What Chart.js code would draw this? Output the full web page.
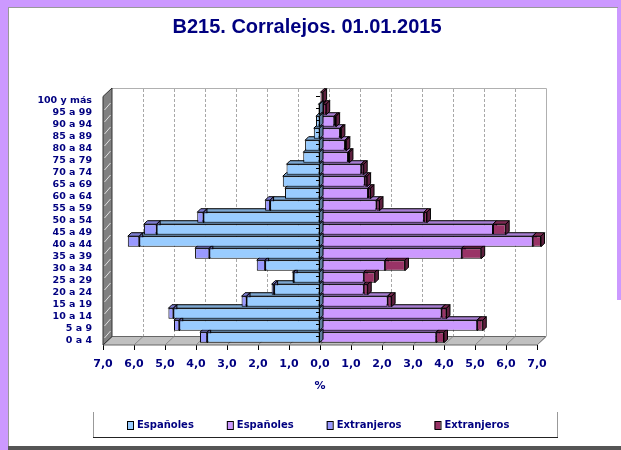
<!DOCTYPE html>
<html lang="es">
<head>
<meta charset="UTF-8">
<title>B215. Corralejos. 01.01.2015</title>
<style>
  body { margin: 0; background: #fff; }
  #wrap { position: relative; width: 621px; height: 450px; overflow: hidden; background: #fff; }
  .strip { position: absolute; background: #CC99FF; }
  canvas { position: absolute; left: 0; top: 0; }
</style>
</head>
<body>
<div id="wrap">
  <div class="strip" style="left:0;top:0;width:621px;height:7px;"></div>
  <div class="strip" style="left:0;top:0;width:8px;height:450px;"></div>
  <div class="strip" style="left:617px;top:0;width:4px;height:300px;"></div>
  <div style="position:absolute;left:8px;top:7px;width:609px;height:439px;border-left:1px solid #999;border-top:1px solid #999;"></div>
  <div style="position:absolute;left:8px;top:446px;width:613px;height:4px;background:#555;"></div>
  <canvas id="chart" width="621" height="450"></canvas>
</div>
<script src="https://cdn.jsdelivr.net/npm/chart.js@4.4.1/dist/chart.umd.min.js"></script>
<script>
// age groups, top to bottom
const categories = ['100 y más', '95 a 99', '90 a 94', '85 a 89', '80 a 84', '75 a 79', '70 a 74',
  '65 a 69', '60 a 64', '55 a 59', '50 a 54', '45 a 49', '40 a 44', '35 a 39', '30 a 34',
  '25 a 29', '20 a 24', '15 a 19', '10 a 14', '5 a 9', '0 a 4'];

// % of population, left side (hombres)
const espanolesH   = [0.00, 0.05, 0.13, 0.20, 0.48, 0.54, 1.08, 1.20, 1.13, 1.61, 3.76, 5.27, 5.83, 3.57, 1.77, 0.85, 1.48, 2.37, 4.73, 4.54, 3.64];
const extranjerosH = [0.00, 0.00, 0.00, 0.00, 0.00, 0.00, 0.00, 0.00, 0.00, 0.16, 0.20, 0.41, 0.37, 0.46, 0.27, 0.04, 0.08, 0.16, 0.16, 0.17, 0.23];
// right side (mujeres)
const espanolasM   = [0.00, 0.10, 0.46, 0.64, 0.80, 0.90, 1.33, 1.44, 1.55, 1.82, 3.35, 5.58, 6.86, 4.57, 2.09, 1.41, 1.41, 2.18, 3.92, 5.07, 3.75];
const extranjerasM = [0.10, 0.10, 0.06, 0.05, 0.05, 0.05, 0.08, 0.08, 0.08, 0.10, 0.10, 0.41, 0.27, 0.63, 0.65, 0.36, 0.13, 0.13, 0.16, 0.18, 0.25];

const xTickValues = [-7, -6, -5, -4, -3, -2, -1, 0, 1, 2, 3, 4, 5, 6, 7];
const legendOrder = [0, 2, 1, 3];

const NAVY = '#000080';
const DX = 9, DY = 8.5;      // depth of walls / floor
const BD = 3.5;              // depth of the bars

function shade(hex, f) {
  const n = parseInt(hex.slice(1), 16);
  const r = Math.round(((n >> 16) & 255) * f);
  const g = Math.round(((n >> 8) & 255) * f);
  const b = Math.round((n & 255) * f);
  return 'rgb(' + r + ',' + g + ',' + b + ')';
}

function poly(ctx, pts, fill, stroke) {
  ctx.beginPath();
  ctx.moveTo(pts[0][0], pts[0][1]);
  for (let i = 1; i < pts.length; i++) ctx.lineTo(pts[i][0], pts[i][1]);
  ctx.closePath();
  if (fill) { ctx.fillStyle = fill; ctx.fill(); }
  if (stroke) { ctx.strokeStyle = stroke; ctx.lineWidth = 1; ctx.stroke(); }
}

function barBox(el) {
  const p = el.getProps(['x', 'y', 'base', 'height'], true);
  return {
    x1: Math.min(p.x, p.base), x2: Math.max(p.x, p.base),
    yT: p.y - p.height / 2, yB: p.y + p.height / 2
  };
}

function sideFace(ctx, b, color) {
  poly(ctx, [[b.x2, b.yT], [b.x2 + BD, b.yT - BD], [b.x2 + BD, b.yB - BD], [b.x2, b.yB]], shade(color, 0.62), '#000');
}

const scene3d = {
  id: 'scene3d',
  beforeDatasetsDraw(chart) {
    const { ctx, chartArea: a, scales: { x, y } } = chart;
    const L = a.left, R = a.right;
    const FB = a.bottom + 1.5;      // floor front edge
    const backTop = 88;
    ctx.save();

    // back wall outline
    ctx.strokeStyle = '#b0b0b0';
    ctx.lineWidth = 1;
    ctx.beginPath();
    ctx.moveTo(L + DX, backTop + 0.5);
    ctx.lineTo(R + DX + 0.5, backTop + 0.5);
    ctx.lineTo(R + DX + 0.5, FB - DY);
    ctx.stroke();

    // dashed gridlines on back wall
    ctx.setLineDash([3, 2]);
    ctx.strokeStyle = '#a8a8a8';
    xTickValues.forEach(v => {
      if (Math.abs(v) === 7) return;
      const px = Math.round(x.getPixelForValue(v) + DX) + 0.5;
      ctx.beginPath();
      ctx.moveTo(px, backTop + 1);
      ctx.lineTo(px, FB - DY);
      ctx.stroke();
    });
    ctx.setLineDash([]);

    // floor
    poly(ctx, [[L, FB], [R, FB], [R + DX, FB - DY], [L + DX, FB - DY]], '#c0c0c0', '#666');
    ctx.strokeStyle = '#8a8a8a';
    xTickValues.forEach(v => {
      const px = x.getPixelForValue(v);
      ctx.beginPath();
      ctx.moveTo(px, FB);
      ctx.lineTo(px + DX, FB - DY);
      ctx.stroke();
    });

    // left wall
    poly(ctx, [[L, FB], [L, backTop + DY], [L + DX, backTop], [L + DX, FB - DY]], '#808080', '#333');
    ctx.strokeStyle = '#e0e0e0';
    const pitch = (a.bottom - a.top) / categories.length;
    for (let i = 1; i < categories.length; i++) {
      const yb = a.top + i * pitch + 3.5;
      ctx.beginPath();
      ctx.moveTo(L + 1.5, yb + 3);
      ctx.lineTo(L + DX - 1.5, yb - 4);
      ctx.stroke();
    }

    // bar extrusions: top and side faces
    chart.data.datasets.forEach((ds, i) => {
      chart.getDatasetMeta(i).data.forEach(el => {
        const b = barBox(el);
        if (b.x2 - b.x1 < 0.3) return;
        poly(ctx, [[b.x1, b.yT], [b.x1 + BD, b.yT - BD], [b.x2 + BD, b.yT - BD], [b.x2, b.yT]], shade(ds.backgroundColor, 0.82), '#000');
        sideFace(ctx, b, ds.backgroundColor);
      });
    });
    ctx.restore();
  },
  afterDatasetsDraw(chart) {
    const { ctx, scales: { x, y } } = chart;
    ctx.save();
    // side face of the inner left bars sits over the start of the right bars
    const ds0 = chart.data.datasets[0];
    chart.getDatasetMeta(0).data.forEach(el => {
      const b = barBox(el);
      if (b.x2 - b.x1 < 0.3) return;
      sideFace(ctx, b, ds0.backgroundColor);
    });
    // small category ticks along the zero line
    const zx = Math.round(x.getPixelForValue(0));
    ctx.strokeStyle = '#000';
    ctx.lineWidth = 1;
    categories.forEach((c, i) => {
      const yy = Math.round(y.getPixelForValue(i) - 1.5) + 0.5;
      ctx.beginPath();
      ctx.moveTo(zx - 4, yy);
      ctx.lineTo(zx, yy);
      ctx.stroke();
    });
    ctx.restore();
  },
  afterDraw(chart) {
    const { ctx } = chart;
    ctx.save();
    // title
    ctx.fillStyle = NAVY;
    ctx.font = 'bold 20px "Liberation Sans", Arial, sans-serif';
    ctx.textAlign = 'center';
    ctx.textBaseline = 'middle';
    ctx.fillText('B215. Corralejos. 01.01.2015', 307, 27);

    // legend box
    ctx.lineWidth = 1;
    ctx.strokeStyle = '#999';
    ctx.beginPath();
    ctx.moveTo(93.5, 412); ctx.lineTo(93.5, 437);
    ctx.moveTo(557.5, 412); ctx.lineTo(557.5, 437);
    ctx.stroke();
    ctx.strokeStyle = '#222';
    ctx.beginPath();
    ctx.moveTo(93, 437.5); ctx.lineTo(558, 437.5);
    ctx.stroke();

    // legend items
    ctx.font = 'bold 10px "DejaVu Sans", sans-serif';
    ctx.textAlign = 'left';
    ctx.textBaseline = 'middle';
    let lx = 127;
    legendOrder.forEach(i => {
      const ds = chart.data.datasets[i];
      ctx.fillStyle = ds.backgroundColor;
      ctx.fillRect(lx, 421, 6, 8);
      ctx.strokeStyle = '#000';
      ctx.strokeRect(lx + 0.5, 421.5, 6, 8);
      ctx.fillStyle = NAVY;
      ctx.fillText(ds.label, lx + 10, 425.5);
      lx += 10 + ctx.measureText(ds.label).width + 33;
    });
    ctx.restore();
  }
};

const ctx = document.getElementById('chart').getContext('2d');
new Chart(ctx, {
  type: 'bar',
  data: {
    labels: categories,
    datasets: [
      { label: 'Españoles', data: espanolesH.map(v => -v), backgroundColor: '#99CCFF' },
      { label: 'Extranjeros', data: extranjerosH.map(v => -v), backgroundColor: '#9999FF' },
      { label: 'Españoles', data: espanolasM, backgroundColor: '#CC99FF' },
      { label: 'Extranjeros', data: extranjerasM, backgroundColor: '#993366' }
    ].map(ds => Object.assign(ds, {
      stack: 'pyramid', borderColor: '#000', borderWidth: 1, borderSkipped: false,
      categoryPercentage: 0.88, barPercentage: 1, clip: false
    }))
  },
  options: {
    indexAxis: 'y',
    responsive: false,
    animation: false,
    layout: { padding: { left: 0, right: 84, top: 91.5, bottom: 56.5 } },
    plugins: {
      legend: { display: false },
      title: { display: false },
      tooltip: { enabled: false }
    },
    scales: {
      x: {
        stacked: true,
        min: -7,
        max: 7,
        afterBuildTicks: s => { s.ticks = xTickValues.map(v => ({ value: v })); },
        afterFit: s => { s.height = 50; },
        ticks: {
          autoSkip: false,
          maxRotation: 0,
          padding: 8,
          color: NAVY,
          font: { family: '"DejaVu Sans", sans-serif', size: 11, weight: 'bold' },
          callback: v => Math.abs(v).toFixed(1).replace('.', ',')
        },
        grid: { drawOnChartArea: false, drawTicks: true, tickLength: 6.5, color: '#000' },
        border: { display: false },
        title: {
          display: true,
          text: '%',
          color: NAVY,
          padding: { top: 0, bottom: 1 },
          font: { family: '"DejaVu Sans", sans-serif', size: 11, weight: 'bold' }
        }
      },
      y: {
        stacked: true,
        afterFit: s => { s.width = 103; },
        grid: { display: false, drawTicks: false },
        border: { display: false },
        ticks: {
          autoSkip: false,
          padding: 11,
          labelOffset: 3.5,
          color: NAVY,
          font: { family: '"DejaVu Sans", sans-serif', size: 9.5, weight: 'bold' }
        }
      }
    }
  },
  plugins: [scene3d]
});
</script>
</body>
</html>
